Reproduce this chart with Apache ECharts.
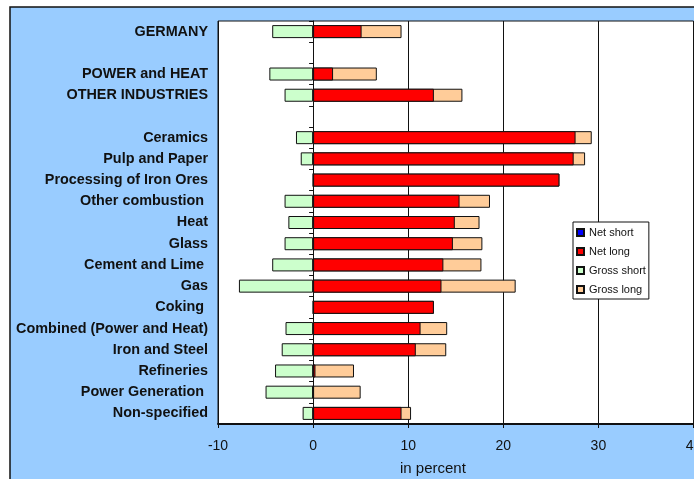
<!DOCTYPE html>
<html>
<head>
<meta charset="utf-8">
<script src="https://cdn.jsdelivr.net/npm/echarts@6/dist/echarts.min.js"></script>
<style>
  html, body { margin: 0; padding: 0; background: #fff; }
  #main { width: 694px; height: 479px; }
</style>
</head>
<body>
<div id="main"></div>
<script>
// sectors, top to bottom (blank names are the gap rows)
var sectors = ['GERMANY', ' ', 'POWER and HEAT', 'OTHER INDUSTRIES', '  ', 'Ceramics', 'Pulp and Paper',
  'Processing of Iron Ores', 'Other combustion ', 'Heat', 'Glass', 'Cement and Lime ', 'Gas', 'Coking ',
  'Combined (Power and Heat)', 'Iron and Steel', 'Refineries', 'Power Generation ', 'Non-specified'];

var netShort = [];
var netLong = [5.1, '-', 2.1, 12.7, '-', 27.6, 27.4, 25.9, 15.4, 14.9, 14.7, 13.7, 13.5, 12.7, 11.3, 10.8, 0.25, 0, 9.3];
var grossShort = [-4.3, '-', -4.6, -3.0, '-', -1.8, -1.3, 0, -3.0, -2.6, -3.0, -4.3, -7.8, 0, -2.9, -3.3, -4.0, -5.0, -1.1];
var grossLong = [9.3, '-', 6.7, 15.7, '-', 29.3, 28.6, 25.9, 18.6, 17.5, 17.8, 17.7, 21.3, 12.7, 14.1, 14.0, 4.3, 5.0, 10.3];

var xTicks = [-10, 0, 10, 20, 30, 40];

var myChart = echarts.init(document.getElementById('main'));

var border = { borderColor: '#111', borderWidth: 1 };

var option = {
  backgroundColor: '#fff',
  animation: false,
  textStyle: { fontFamily: 'Liberation Sans, Arial, sans-serif' },
  graphic: [
    {
      type: 'rect', z: -100, silent: true,
      shape: { x: 10, y: 7, width: 700, height: 490 },
      style: { fill: '#99CCFF', stroke: '#111', lineWidth: 1.5 }
    },
    {
      type: 'text', left: 400, top: 461,
      style: { text: 'in percent', font: '15px Liberation Sans, Arial, sans-serif', fill: '#111' }
    }
  ],
  legend: {
    orient: 'vertical',
    left: 573, top: 222,
    backgroundColor: '#fff',
    borderColor: '#111', borderWidth: 1,
    padding: [4, 3, 3, 3],
    itemWidth: 7, itemHeight: 7, itemGap: 6,
    icon: 'rect',
    textStyle: { fontSize: 11, color: '#111', lineHeight: 13 },
    data: ['Net short', 'Net long', 'Gross short', 'Gross long']
  },
  grid: {
    left: 218, top: 21, width: 475.5, height: 403,
    outerBoundsMode: 'none',
    show: true, backgroundColor: '#fff', borderColor: '#111', borderWidth: 1
  },
  xAxis: {
    type: 'value', min: -10, max: 40, interval: 10,
    axisLine: { show: true, lineStyle: { color: '#111', width: 2 } },
    axisTick: { show: true, length: 4, lineStyle: { color: '#111' } },
    axisLabel: { fontSize: 14, color: '#111', margin: 15,
      formatter: function (v) { return xTicks.indexOf(v) >= 0 ? String(v) : ''; } },
    splitLine: { show: true, lineStyle: { color: '#111', width: 1 } }
  },
  yAxis: [
    {
      type: 'category', inverse: true, data: sectors,
      axisLine: { show: false, onZero: false },
      axisTick: { show: false },
      axisLabel: { fontSize: 14.4, fontWeight: 'bold', color: '#111', margin: 10, padding: [3, 0, 0, 0] }
    },
    {
      type: 'category', inverse: true, data: sectors, position: 'left',
      axisLine: { show: true, onZero: true, lineStyle: { color: '#111', width: 1 } },
      axisTick: { show: true, length: 4, lineStyle: { color: '#111' } },
      axisLabel: { show: false }
    }
  ],
  series: [
    { name: 'Net short', type: 'bar', barWidth: 13, barGap: '-100%', data: netShort,
      itemStyle: Object.assign({ color: '#0000FF' }, border) },
    { name: 'Net long', type: 'bar', barWidth: 13, barGap: '-100%', z: 4, data: netLong,
      itemStyle: Object.assign({ color: '#FF0000' }, border) },
    { name: 'Gross short', type: 'bar', barWidth: 13, barGap: '-100%', data: grossShort,
      itemStyle: Object.assign({ color: '#CCFFCC' }, border) },
    { name: 'Gross long', type: 'bar', barWidth: 13, barGap: '-100%', z: 2, data: grossLong,
      itemStyle: Object.assign({ color: '#FFCC99' }, border) }
  ]
};

myChart.setOption(option, true);
</script>
</body>
</html>
